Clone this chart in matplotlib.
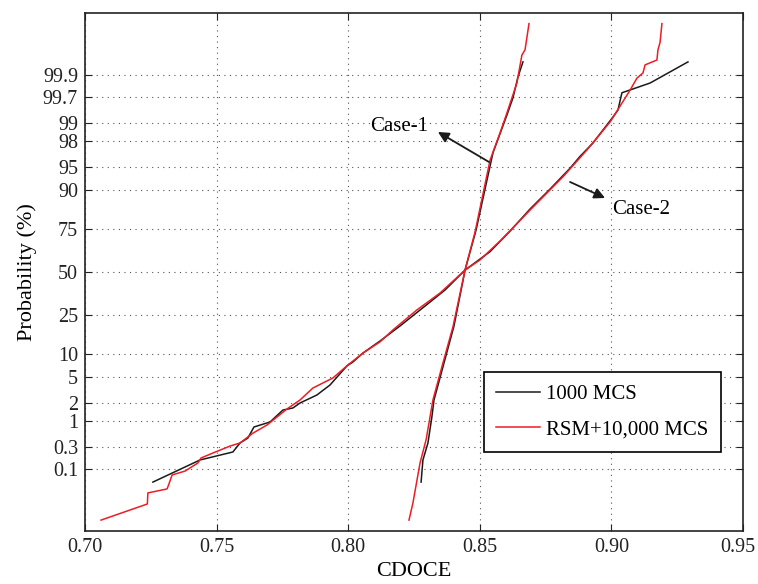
import numpy as np
import matplotlib
matplotlib.use('Agg')
import matplotlib.pyplot as plt
from matplotlib.transforms import ScaledTranslation
from statistics import NormalDist

plt.rcParams['font.family'] = ['Liberation Serif', 'DejaVu Serif']
plt.rcParams['font.size'] = 15

# Case-2, 1000 MCS (черная)
c2_mcs_x = [0.7258, 0.7437, 0.7562, 0.7589, 0.7619, 0.7642, 0.7703, 0.7752, 0.7790,
            0.7817, 0.7881, 0.7931, 0.7995, 0.8018, 0.8056, 0.8121, 0.8197, 0.8292,
            0.8368, 0.8444, 0.8539, 0.8615, 0.8691, 0.8767, 0.8843, 0.8881, 0.8930,
            0.8968, 0.9006, 0.9025, 0.9040, 0.9147, 0.9291]
c2_mcs_p = [0.050, 0.162, 0.241, 0.37, 0.466, 0.76, 0.94, 1.53, 1.66,
            2.01, 2.70, 3.84, 7.05, 7.93, 10.2, 14.0, 19.9, 29.7,
            38.9, 51.2, 62.5, 73.9, 83.8, 90.3, 94.8, 96.5, 97.83,
            98.69, 99.24, 99.44, 99.75, 99.846, 99.950]

# Case-2, RSM+10,000 MCS (красная)
c2_rsm_x = [0.7061, 0.7237, 0.7239, 0.7312, 0.7319, 0.7331, 0.7380, 0.7429, 0.7441,
            0.7486, 0.7551, 0.7589, 0.7638, 0.7692, 0.7767, 0.7817, 0.7866, 0.7942,
            0.7999, 0.8056, 0.8121, 0.8170, 0.8261, 0.8349, 0.8444, 0.8501, 0.8581,
            0.8691, 0.8816, 0.8907, 0.8995, 0.9040, 0.9071, 0.9097, 0.9120, 0.9128,
            0.9173, 0.9177, 0.9185, 0.9192]
c2_rsm_p = [0.0051, 0.014, 0.027, 0.034, 0.045, 0.074, 0.091, 0.139, 0.179,
            0.229, 0.32, 0.37, 0.58, 0.83, 1.59, 2.25, 3.46, 4.85,
            7.26, 10.2, 13.7, 18.2, 27.6, 37.1, 51.2, 57.5, 69.2,
            83.4, 93.2, 97.2, 99.06, 99.59, 99.78, 99.88, 99.909, 99.941,
            99.955, 99.975, 99.984, 99.995]

# Case-1, 1000 MCS
c1_mcs_x = [0.8277, 0.8284, 0.8303, 0.8318, 0.8326, 0.8364, 0.8402, 0.8444, 0.8486,
            0.8550, 0.8603, 0.8626, 0.8645, 0.8664]
c1_mcs_p = [0.050, 0.162, 0.37, 1.16, 2.25, 7.7, 19.9, 51.2, 74.5,
            96.9, 99.30, 99.68, 99.887, 99.950]

# Case-1, RSM+10,000 MCS
c1_rsm_x = [0.8231, 0.8246, 0.8273, 0.8296, 0.8322, 0.8360, 0.8398, 0.8444, 0.8482,
            0.8539, 0.8577, 0.8603, 0.8641, 0.8660, 0.8672, 0.8687]
c1_rsm_p = [0.0051, 0.0149, 0.139, 0.43, 2.25, 7.7, 19.5, 51.2, 73.4,
            96.0, 98.53, 99.36, 99.846, 99.966, 99.975, 99.995]

ytick_p = [0.1, 0.3, 1, 2, 5, 10, 25, 50, 75, 90, 95, 98, 99, 99.7, 99.9]
ytick_labels = ['0.1', '0.3', '1', '2', '5', '10', '25', '50', '75', '90', '95',
                '98', '99', '99.7', '99.9']
xticks = [0.70, 0.75, 0.80, 0.85, 0.90, 0.95]

nd = NormalDist()


def z(p):
    # перевод процентов в квантиль нормального распределения
    return np.array([nd.inv_cdf(v / 100.0) for v in p])


fig = plt.figure(figsize=(7.58, 5.84), dpi=100)
ax = fig.add_axes([0.1121, 0.0908, 0.8681, 0.8869])

black = '#1a1a1a'
red = '#ee1c24'
ax.plot(c2_mcs_x, z(c2_mcs_p), color=black, lw=1.1, label='1000 MCS')
ax.plot(c1_mcs_x, z(c1_mcs_p), color=black, lw=1.1)
ax.plot(c2_rsm_x, z(c2_rsm_p), color=red, lw=1.1, label='RSM+10,000 MCS')
ax.plot(c1_rsm_x, z(c1_rsm_p), color=red, lw=1.1)

ax.set_xlim(0.70, 0.95)
ax.set_ylim(-4.056, 4.056)
ax.set_xticks(xticks)
ax.set_xticklabels(['%.2f' % v for v in xticks])
ax.set_yticks(z(ytick_p))
ax.set_yticklabels(ytick_labels)
ax.grid(True, linestyle=(0, (1, 4)), color='#555555', lw=0.8)
ax.tick_params(direction='in', top=True, right=True, length=5, width=0.8,
               labelsize=14.5, colors='#222222', pad=5)
for s in ax.spines.values():
    s.set_linewidth(1.2)
    s.set_color('#222222')

# последнюю подпись 0.95 чуть сдвигаем влево, чтобы не обрезалась
last = ax.get_xticklabels()[-1]
last.set_transform(last.get_transform() + ScaledTranslation(-4 / 72, 0, fig.dpi_scale_trans))

ax.set_xlabel('CDOCE', fontsize=16, labelpad=4)
ax.set_ylabel('Probability (%)', fontsize=16, labelpad=4)

arrow = dict(arrowstyle='-|>', color=black, lw=1.3, mutation_scale=16,
             shrinkA=0, shrinkB=0)
ax.text(0.8303, 2.271, 'Case-1', ha='right', va='center', fontsize=15)
ax.annotate('', xy=(0.8341, 2.193), xytext=(0.8535, 1.723), arrowprops=arrow)
ax.annotate('', xy=(0.8976, 1.159), xytext=(0.8843, 1.410), arrowprops=arrow)
ax.text(0.9002, 0.971, 'Case-2', ha='left', va='center', fontsize=15)

leg = ax.legend(loc='lower right', bbox_to_anchor=(0.9666, 0.1525), borderaxespad=0,
                fancybox=False, edgecolor='black', framealpha=1, fontsize=15,
                handlelength=2.1, handletextpad=0.3, labelspacing=0.75, borderpad=0.6)
leg.get_frame().set_linewidth(1.2)

fig.savefig('out.png', dpi=100)
